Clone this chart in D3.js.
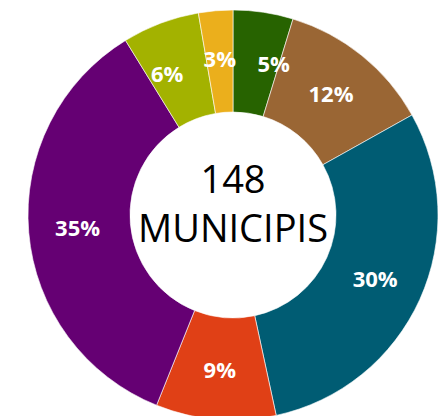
<!DOCTYPE html>
<html>
<head>
<meta charset="utf-8">
<script src="https://cdn.jsdelivr.net/npm/d3@7"></script>
<style>
  html, body { margin: 0; padding: 0; background: #fff; }
  svg { display: block; }
</style>
</head>
<body>
<svg width="438" height="416"></svg>
<script>
// municipalities per group (total 148), clockwise from top
var groups = ["g1", "g2", "g3", "g4", "g5", "g6", "g7"];
var counts = [7, 18, 44, 14, 52, 9, 4];
var colors = ["#276300", "#9a6634", "#005c73", "#e04016", "#650073", "#a3b200", "#ebaf1c"];
var centerLines = ["148", "MUNICIPIS"];

var svg = d3.select("svg"),
    cx = 233,
    cy = 215,
    outerR = 205,
    innerR = 103,
    labelR = 156,
    minDist = 54;

var total = d3.sum(counts);

var data = groups.map(function(g, i) {
  return {name: g, value: counts[i], color: colors[i]};
});

var pie = d3.pie()
    .sort(null)
    .value(function(d) { return d.value; });

var arc = d3.arc()
    .innerRadius(innerR)
    .outerRadius(outerR);

var g = svg.append("g")
    .attr("transform", "translate(" + cx + "," + cy + ")");

var arcs = pie(data);

// label angles start at the middle of each slice
arcs.forEach(function(d) { d.la = (d.startAngle + d.endAngle) / 2; });

function pos(a) { return [labelR * Math.sin(a), -labelR * Math.cos(a)]; }
function dist(a, b) {
  var p = pos(a), q = pos(b);
  return Math.hypot(p[0] - q[0], p[1] - q[1]);
}

// crowded neighbours: the bigger slice moves its label away
for (var i = 0; i < arcs.length; i++) {
  var a = arcs[i], b = arcs[(i + 1) % arcs.length];
  var step = 0.005;
  var n = 0;
  while (dist(a.la, b.la) < minDist && n < 200) {
    if (a.value >= b.value) a.la -= step; else b.la += step;
    n++;
  }
}

g.selectAll("path")
  .data(arcs)
  .enter().append("path")
    .attr("d", arc)
    .attr("fill", function(d) { return d.data.color; })
    .attr("stroke", "#fff")
    .attr("stroke-width", 0.6);

g.selectAll("text.pct")
  .data(arcs)
  .enter().append("text")
    .attr("class", "pct")
    .attr("transform", function(d) { return "translate(" + pos(d.la) + ")"; })
    .attr("text-anchor", "middle")
    .attr("dy", "0.36em")
    .attr("fill", "#fff")
    .attr("font-family", "'Open Sans', sans-serif")
    .attr("font-weight", "bold")
    .attr("font-size", 22)
    .text(function(d) { return Math.round(d.data.value / total * 100) + "%"; });

g.selectAll("text.center")
  .data(centerLines)
  .enter().append("text")
    .attr("class", "center")
    .attr("x", 0)
    .attr("y", function(d, i) { return i === 0 ? -22 : 27; })
    .attr("text-anchor", "middle")
    .attr("fill", "#000")
    .attr("font-family", "'Open Sans', sans-serif")
    .attr("font-size", 38)
    .text(function(d) { return d; });
</script>
</body>
</html>
